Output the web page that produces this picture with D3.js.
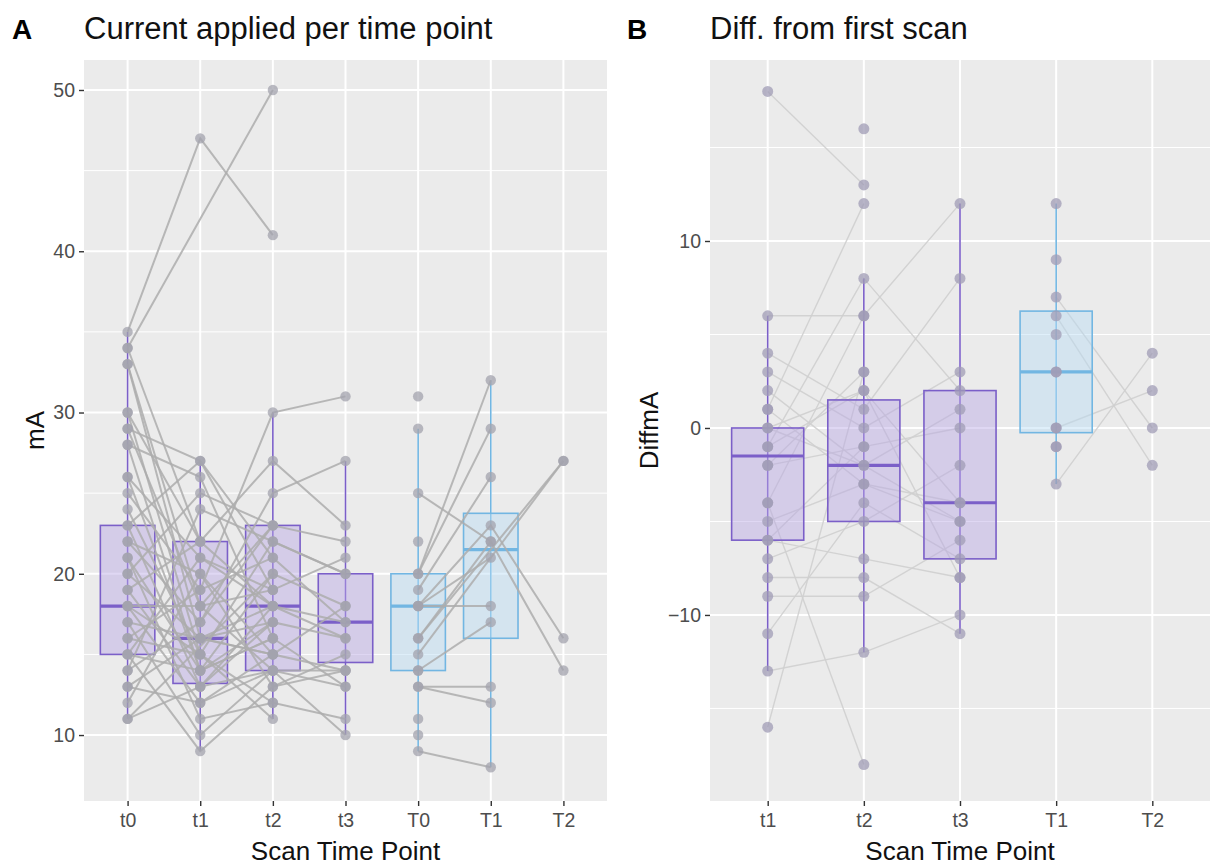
<!DOCTYPE html>
<html>
<head>
<meta charset="utf-8">
<script src="https://cdn.jsdelivr.net/npm/d3@7"></script>
<style>
  body { margin: 0; background: #fff; }
  svg { display: block; font-family: "Liberation Sans", Arial, sans-serif; }
</style>
</head>
<body>
<div id="chart"></div>
<script>
// ---- data ----
const timesA = ["t0", "t1", "t2", "t3", "T0", "T1", "T2"];
const timesB = ["t1", "t2", "t3", "T1", "T2"];

// panel A, one row per subject: t0, t1, t2, t3
const cohortSmall = [
  [35, 47, 41, null], [34, null, 50, null], [33, 16, 15, null], [30, 22, 18, 17],
  [29, 18, 14, null], [28, 14, 16, 13], [26, 21, 19, null], [25, 19, 30, 31],
  [24, 15, 22, 20], [23, 27, 21, null], [23, 13, 17, 16], [22, 17, 25, 27],
  [22, 20, 13, 14], [21, 14, 20, 18], [21, 11, 12, 11], [20, 16, 18, null],
  [20, 25, 23, 22], [19, 13, 14, 10], [19, 22, 27, 23], [18, 15, 11, null],
  [18, 12, 15, 14], [18, 18, 19, 21], [17, 16, 15, null], [17, 10, 14, 13],
  [16, 19, 21, 17], [16, 15, 12, null], [15, 9, 13, 15], [15, 21, 18, 16],
  [15, 14, 16, null], [14, 24, 22, 20], [14, 17, 23, null], [13, 12, 14, 14],
  [13, 16, 17, null], [12, 20, 15, 18], [11, 13, 18, null], [11, null, 20, null],
  [34, 22, null, null], [33, 18, 23, null], [30, 15, null, null], [26, 14, 17, null],
  [29, 27, 19, null], [28, 26, 16, null]
];
// panel A, one row per subject: T0, T1, T2
const cohortBig = [
  [20, 32, null], [20, 29, null], [25, 22, 14], [13, 13, null], [13, 12, null],
  [9, 8, null], [19, 26, null], [18, 23, 16], [16, 22, null], [18, 21, null],
  [18, 18, null], [14, 17, null], [31, null, null], [29, null, null], [22, null, null],
  [15, null, 27], [16, null, 27], [14, null, null], [11, null, null], [10, null, null]
];

// panel B, difference from first scan: t1, t2, t3
const diffSmall = [
  [18, 13, null], [6, 6, 12], [1, 12, null], [-16, 3, null], [-4, -18, null],
  [-13, -12, -10], [4, 1, 8], [null, 16, null], [3, 0, 3], [2, -2, -5],
  [-1, 8, 2], [-2, -1, 0], [-5, -3, -4], [-6, -7, -8], [-7, -5, -2],
  [-8, -8, -11], [-9, -9, -6], [-11, -4, -7], [0, -2, 1], [-1, 2, -4],
  [-4, 6, null], [-6, -1, null], [-2, 3, null], [1, -3, -5], [0, 2, -8]
];
// panel B: T1, T2
const diffBig = [
  [12, null], [9, null], [7, 0], [6, -2], [5, null], [3, null],
  [3, null], [0, 2], [0, null], [-1, null], [-1, null], [-3, 4]
];

// box statistics (null = no box)
const boxA = {
  low:  [11, 9, 11, 10, 9, 8, null],
  q1:   [15, 13.2, 14, 14.5, 14, 16, null],
  med:  [18, 16, 18, 17, 18, 21.5, null],
  q3:   [23, 22, 23, 20, 20, 23.75, null],
  high: [35, 27, 30, 27, 29, 32, null]
};
const boxB = {
  low:  [-13, -12, -11, -3, null],
  q1:   [-6, -5, -7, -0.25, null],
  med:  [-1.5, -2, -4, 3, null],
  q3:   [0, 1.5, 2, 6.25, null],
  high: [6, 8, 12, 12, null]
};

const ticksA = [10, 20, 30, 40, 50];
const minorA = [15, 25, 35, 45];
const ticksB = [-10, 0, 10];
const minorB = [-15, -5, 5, 15];

// ---- drawing ----
const W = 1210, H = 865;
const panelTop = 60, panelBottom = 801;

const svg = d3.select("#chart").append("svg")
  .attr("width", W).attr("height", H);

function rows(subjects, keys) {
  return subjects.map(s => s.map((v, i) => ({ k: keys[i], v })).filter(p => p.v !== null));
}

function panel(o) {
  const x = d3.scalePoint().domain(o.cats).range([o.left, o.right]).padding(0.6);
  const y = d3.scaleLinear().domain(o.yDomain).range([panelBottom, panelTop]);
  const g = svg.append("g");

  g.append("rect").attr("x", o.left).attr("y", panelTop)
    .attr("width", o.right - o.left).attr("height", panelBottom - panelTop)
    .attr("fill", "#ebebeb");

  g.append("g").selectAll("line").data(o.minor).join("line")
    .attr("x1", o.left).attr("x2", o.right)
    .attr("y1", d => y(d)).attr("y2", d => y(d))
    .attr("stroke", "#fff").attr("stroke-width", 1);
  g.append("g").selectAll("line").data(o.ticks).join("line")
    .attr("x1", o.left).attr("x2", o.right)
    .attr("y1", d => y(d)).attr("y2", d => y(d))
    .attr("stroke", "#fff").attr("stroke-width", 2);
  g.append("g").selectAll("line").data(o.cats).join("line")
    .attr("x1", d => x(d)).attr("x2", d => x(d))
    .attr("y1", panelTop).attr("y2", panelBottom)
    .attr("stroke", "#fff").attr("stroke-width", 2);

  const boxW = x.step() * 0.75;
  const colour = c => c[0] === "t" ? "#7b5fc8" : "#72b6e2";
  const fill = c => c[0] === "t" ? "#b8a6e4" : "#b7dcf3";
  const idx = o.cats.map((c, i) => i).filter(i => o.box.med[i] !== null);

  const drawLines = () => {
    const line = d3.line().x(d => x(d.k)).y(d => y(d.v));
    o.groups.forEach(gr => {
      g.append("g").selectAll("path").data(rows(gr.data, gr.keys)).join("path")
        .attr("d", line).attr("fill", "none")
        .attr("stroke", o.lineColour).attr("stroke-width", o.lineWidth)
        .attr("stroke-opacity", o.lineOpacity);
    });
  };
  const drawBoxes = () => {
    const b = g.append("g");
    b.append("g").selectAll("line").data(idx).join("line")
      .attr("x1", i => x(o.cats[i])).attr("x2", i => x(o.cats[i]))
      .attr("y1", i => y(o.box.low[i])).attr("y2", i => y(o.box.high[i]))
      .attr("stroke", i => colour(o.cats[i])).attr("stroke-width", 1.6);
    b.append("g").selectAll("rect").data(idx).join("rect")
      .attr("x", i => x(o.cats[i]) - boxW / 2).attr("width", boxW)
      .attr("y", i => y(o.box.q3[i]))
      .attr("height", i => y(o.box.q1[i]) - y(o.box.q3[i]))
      .attr("fill", i => fill(o.cats[i])).attr("fill-opacity", 0.45)
      .attr("stroke", i => colour(o.cats[i])).attr("stroke-width", 1.6);
    b.append("g").selectAll("line").data(idx).join("line")
      .attr("x1", i => x(o.cats[i]) - boxW / 2).attr("x2", i => x(o.cats[i]) + boxW / 2)
      .attr("y1", i => y(o.box.med[i])).attr("y2", i => y(o.box.med[i]))
      .attr("stroke", i => colour(o.cats[i])).attr("stroke-width", 3.2);
  };

  if (o.boxFirst) { drawBoxes(); drawLines(); } else { drawLines(); drawBoxes(); }

  const pts = o.groups.flatMap(gr => rows(gr.data, gr.keys).flat());
  g.append("g").selectAll("circle").data(pts).join("circle")
    .attr("cx", d => x(d.k)).attr("cy", d => y(d.v)).attr("r", o.r)
    .attr("fill", o.pointColour).attr("fill-opacity", 0.75);

  // axes
  const ax = g.append("g").attr("transform", `translate(${o.left},0)`)
    .call(d3.axisLeft(y).tickValues(o.ticks).tickSize(5).tickPadding(4));
  const bx = g.append("g").attr("transform", `translate(0,${panelBottom})`)
    .call(d3.axisBottom(x).tickSize(5).tickPadding(7));
  [ax, bx].forEach(a => {
    a.select(".domain").remove();
    a.selectAll(".tick line").attr("stroke", "#333").attr("stroke-width", 1.4);
    a.selectAll(".tick text").attr("fill", "#4d4d4d").attr("font-size", 19.5)
      .attr("font-family", "Liberation Sans, Arial, sans-serif");
  });

  svg.append("text").attr("x", (o.left + o.right) / 2).attr("y", 860)
    .attr("text-anchor", "middle").attr("font-size", 26).attr("fill", "#111")
    .text("Scan Time Point");
  svg.append("text")
    .attr("transform", `translate(${o.yLabelX},${(panelTop + panelBottom) / 2}) rotate(-90)`)
    .attr("text-anchor", "middle").attr("font-size", 26).attr("fill", "#111")
    .text(o.yLabel);
  svg.append("text").attr("x", o.left).attr("y", 39)
    .attr("font-size", 31).attr("fill", "#111").text(o.title);
  svg.append("text").attr("x", o.tagX).attr("y", 39)
    .attr("font-size", 28).attr("font-weight", "bold").attr("fill", "#000").text(o.tag);
}

panel({
  cats: timesA, left: 84, right: 607, yDomain: [5.91, 51.86],
  ticks: ticksA, minor: minorA, box: boxA, boxFirst: true,
  groups: [
    { data: cohortSmall, keys: ["t0", "t1", "t2", "t3"] },
    { data: cohortBig, keys: ["T0", "T1", "T2"] }
  ],
  lineColour: "#adadad", lineWidth: 2, lineOpacity: 0.85,
  pointColour: "#a3a3ad", r: 5.2,
  title: "Current applied per time point", tag: "A", tagX: 12,
  yLabel: "mA", yLabelX: 44
});

panel({
  cats: timesB, left: 710, right: 1210, yDomain: [-19.95, 19.68],
  ticks: ticksB, minor: minorB, box: boxB, boxFirst: false,
  groups: [
    { data: diffSmall, keys: ["t1", "t2", "t3"] },
    { data: diffBig, keys: ["T1", "T2"] }
  ],
  lineColour: "#cfcfcf", lineWidth: 1.4, lineOpacity: 0.9,
  pointColour: "#a09cb6", r: 5.5,
  title: "Diff. from first scan", tag: "B", tagX: 627,
  yLabel: "DiffmA", yLabelX: 658
});
</script>
</body>
</html>
